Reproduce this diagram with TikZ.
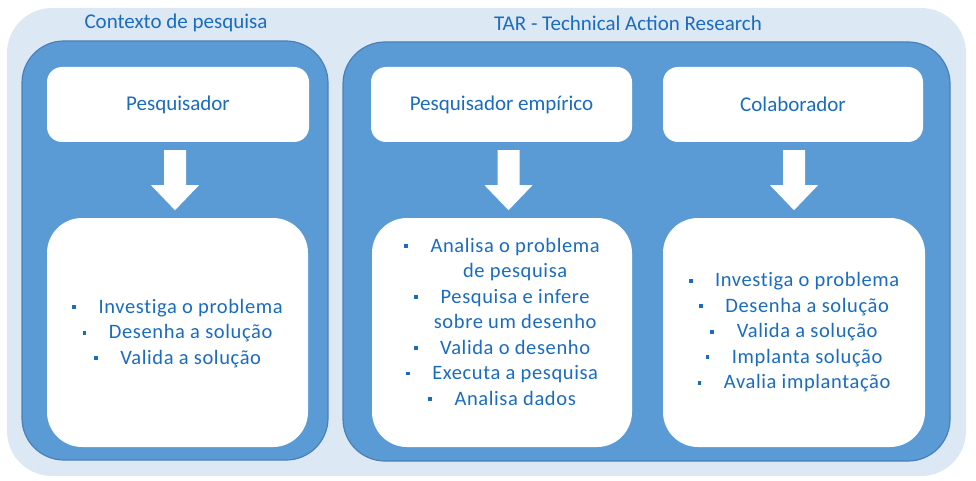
\documentclass[tikz,border=0pt]{standalone}
\usepackage{fontspec}
\setmainfont{Carlito}
\newfontfamily\listfont[LetterSpace=3,Ligatures={NoCommon}]{Carlito}
\usetikzlibrary{calc}
\definecolor{bgl}{HTML}{DDE8F5}
\definecolor{panelblue}{HTML}{5B9BD5}
\definecolor{paneledge}{HTML}{4A80B8}
\definecolor{txtblue}{HTML}{1A6CC0}
\newcommand{\bul}{\raisebox{0.2em}{\rule{3.8pt}{3.8pt}}\hspace{1.1em}}
\newcommand{\contl}{\phantom{\bul}}
\tikzset{
  bgbox/.style={fill=bgl, draw=none, rounded corners=45pt},
  panelbox/.style={fill=panelblue, draw=paneledge, line width=1.2pt, rounded corners=42pt},
  headbox/.style={fill=white, draw=none, rounded corners=15pt, inner sep=0pt},
  listbox/.style={fill=white, draw=none, rounded corners=35pt, inner sep=0pt},
  headtxt/.style={text=txtblue, font=\fontsize{21}{25}\selectfont},
  listtxt/.style={text=txtblue, font=\listfont\fontsize{20.5}{25.5}\selectfont, align=center, inner sep=0pt},
  downarrow/.style={fill=white, draw=none}
}
\newcommand{\blockarrow}[2]{%
  \fill[downarrow] ($(#1)+(-11,0)$) -- ($(#1)+(11,0)$) -- ($(#1)+(11,35)$) -- ($(#1)+(24,35)$)
    -- ($(#1)+(0,60)$) -- ($(#1)+(-24,35)$) -- ($(#1)+(-11,35)$) -- cycle;}
\begin{document}
\begin{tikzpicture}[x=1pt,y=-1pt]
\useasboundingbox (0,0) rectangle (976,481);
% background
\draw[bgbox] (7,8) rectangle (966,476);
% panels
\draw[panelbox] (22,41) rectangle (328,460);
\draw[panelbox] (343,42) rectangle (950,461);
% titles
\node[headtxt] (t1) at (176,23) {Contexto de pesquisa};
\node[headtxt] (t2) at (628,23) {TAR - Technical Action Research};
% top boxes
\node[headbox, minimum width=262pt, minimum height=75pt] (h1) at (178,104.5) {};
\node[headbox, minimum width=261pt, minimum height=75pt] (h2) at (501.5,104.5) {};
\node[headbox, minimum width=260pt, minimum height=75pt] (h3) at (793,104.5) {};
\node[headtxt] at (h1) {Pesquisador};
\node[headtxt] at (h2) {Pesquisador empírico};
\node[headtxt] at (h3) {Colaborador};
% bottom boxes
\node[listbox, minimum width=261pt, minimum height=229pt] (b1) at (177.5,332.5) {};
\node[listbox, minimum width=260pt, minimum height=229pt] (b2) at (502,332.5) {};
\node[listbox, minimum width=262pt, minimum height=229pt] (b3) at (794,332.5) {};
% arrows
\coordinate (a1) at ($(h1.south)+(-3,8)$);
\coordinate (a2) at ($(h2.south)+(7,8)$);
\coordinate (a3) at ($(h3.south)+(1,8)$);
\blockarrow{a1}{b1}
\blockarrow{a2}{b2}
\blockarrow{a3}{b3}
% list texts
\node[listtxt] (l1) at ($(b1.center)+(0,1)$) {\bul Investiga o problema\\ \bul Desenha a solução\\ \bul Valida a solução};
\node[listtxt] (l2) at ($(b2.center)+(0,-11)$) {\bul Analisa o problema\\ \contl de pesquisa\\ \bul Pesquisa e infere\\ \contl sobre um desenho\\ \bul Valida o desenho\\ \bul Executa a pesquisa\\ \bul Analisa dados};
\node[listtxt] (l3) at ($(b3.center)+(0,0)$) {\bul Investiga o problema\\ \bul Desenha a solução\\ \bul Valida a solução\\ \bul Implanta solução\\ \bul Avalia implantação};
\end{tikzpicture}
\end{document}
